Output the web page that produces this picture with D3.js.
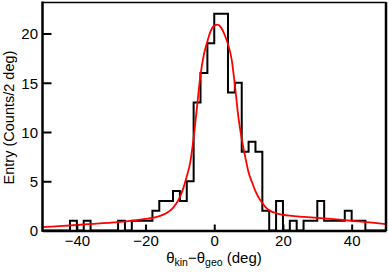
<!DOCTYPE html>
<html><head><meta charset="utf-8">
<script src="https://cdn.jsdelivr.net/npm/d3@7"></script>
<style>html,body{margin:0;padding:0;background:#fff;}svg{display:block;}</style>
</head><body>
<svg id="c" width="389" height="273"></svg>
<script>
// Histogram: bins of 2 deg from -50 to 50
const binStart = -50;
const binWidth = 2;
const counts = [0,0,0,0,1,0,1,0,0,0, 0,1,0,1,1,1,2,3,3,4, 3,5,13,16,19,22,22,14,15,8, 9,8,2,0,3,0,1,0,1,1, 3,1,1,1,2,1,1,0,0,0];
// Fitted curve
const fitX = [-50,-45,-40,-35,-30,-25,-20,-18,-16,-14,-12,-10,-9,-8,-7,-6,-5,-4,-3,-2,-1,0,1,2,3,4,5,6,7,8,9,10,11,12,13,14,15,16,18,20,22,26,30,34,38,42,46,50];
const fitY = [0.35,0.45,0.56,0.68,0.80,0.96,1.18,1.27,1.45,1.75,2.3,3.4,4.3,5.5,6.9,9.4,12.6,15.8,17.9,19.2,20.3,20.8,20.9,20.6,19.9,18.9,17.5,14.8,11.6,9.3,7.5,5.9,4.9,4.0,3.3,2.8,2.35,2.05,1.75,1.6,1.5,1.38,1.28,1.17,1.05,0.92,0.79,0.64];
const xTicks = [-40,-20,0,20,40];
const yTicks = [0,5,10,15,20];

const svg = d3.select("#c");
const x = d3.scaleLinear().domain([-50,50]).range([42.5,386]);
const y = d3.scaleLinear().domain([0,23.15]).range([230.5,2.5]);

// histogram step path
let p = d3.path();
p.moveTo(x(binStart), y(0));
counts.forEach((c,i)=>{
  const x0 = x(binStart+i*binWidth), x1 = x(binStart+(i+1)*binWidth);
  p.lineTo(x0, y(c));
  p.lineTo(x1, y(c));
});
p.lineTo(x(binStart+counts.length*binWidth), y(0));
svg.append("path").attr("d", p.toString()).attr("fill","none")
  .attr("stroke","#000").attr("stroke-width",2).attr("stroke-linejoin","miter");

// fit curve
const line = d3.line().x((d,i)=>x(fitX[i])).y((d,i)=>y(fitY[i])).curve(d3.curveMonotoneX);
svg.append("path").attr("d", line(fitX)).attr("fill","none")
  .attr("stroke","#ff0000").attr("stroke-width",1.8);

// frame
const fr = svg.append("g").attr("stroke","#000").attr("fill","none");
fr.append("line").attr("x1",42.5).attr("x2",386).attr("y1",2.5).attr("y2",2.5).attr("stroke-width",1.6);
fr.append("line").attr("x1",386).attr("x2",386).attr("y1",2).attr("y2",231).attr("stroke-width",2.5);

// axes
const font = "'Liberation Sans', Arial, Helvetica, sans-serif";
const xAxis = d3.axisBottom(x).tickValues(xTicks).tickSizeInner(-6).tickSizeOuter(0)
  .tickFormat(d=>d<0?"\u2212"+Math.abs(d):d);
const gx = svg.append("g").attr("transform","translate(0,230.5)").call(xAxis);
gx.select(".domain").attr("stroke-width",2.5);
gx.selectAll(".tick line").attr("stroke-width",2);
gx.selectAll("text").attr("font-family",font).attr("font-size",15).attr("fill","#000")
  .attr("y",15).attr("dy",null);

const yAxis = d3.axisLeft(y).tickValues(yTicks).tickSizeInner(-9).tickSizeOuter(0);
const gy = svg.append("g").attr("transform","translate(42.5,0)").call(yAxis);
gy.select(".domain").attr("stroke-width",2.5).attr("d","M0,1.5V231.8");
gy.selectAll(".tick line").attr("stroke-width",2);
gy.selectAll("text").attr("font-family",font).attr("font-size",15).attr("fill","#000")
  .attr("x",-4.5).attr("dy","0.36em");

// axis titles
svg.append("text").attr("transform","translate(13.5,117.5) rotate(-90)")
  .attr("text-anchor","middle").attr("font-family",font).attr("font-size",14.5)
  .text("Entry (Counts/2 deg)");

const xt = svg.append("text").attr("x",214).attr("y",263).attr("text-anchor","middle")
  .attr("font-family",font).attr("font-size",15);
xt.append("tspan").text("\u03b8");
xt.append("tspan").attr("font-size",10.5).attr("dy",3).text("kin");
xt.append("tspan").attr("dy",-3).text("\u2212\u03b8");
xt.append("tspan").attr("font-size",10.5).attr("dy",3).text("geo");
xt.append("tspan").attr("dy",-3).text(" (deg)");
</script>
</body></html>
